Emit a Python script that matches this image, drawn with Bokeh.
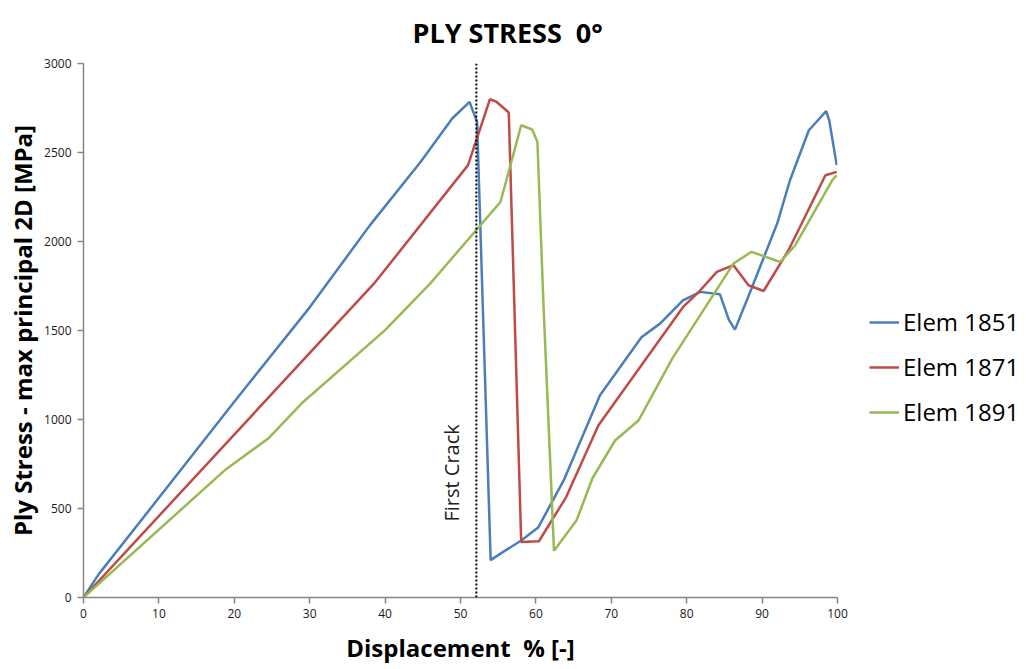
from bokeh.plotting import figure
from bokeh.models import Legend, LegendItem, Label, Span, FixedTicker, Range1d
from bokeh.embed import file_html
from bokeh.resources import INLINE

x_1851 = [0, 2, 10, 20, 30, 38, 44.7, 48.9, 51.2, 52.2, 54.0, 55.0, 58.1, 60.3, 63.7, 68.5, 74.0, 76.5, 79.5, 81.8, 84.4, 85.6, 86.4, 88.6, 92.0, 93.7, 96.2, 98.5, 98.9, 99.9]
y_1851 = [0, 130, 560, 1100, 1630, 2092, 2447, 2691, 2784, 2672, 210, 238, 322, 393, 659, 1136, 1462, 1540, 1669, 1717, 1704, 1560, 1505, 1736, 2101, 2344, 2625, 2732, 2681, 2429]

x_1871 = [0, 38.7, 51.0, 53.9, 54.8, 56.4, 58.05, 60.4, 64.0, 68.3, 79.5, 81.8, 84.0, 86.2, 88.2, 90.2, 93.5, 98.4, 99.9]
y_1871 = [0, 1772, 2429, 2799, 2784, 2725, 312, 316, 563, 968, 1631, 1726, 1829, 1867, 1754, 1722, 1951, 2372, 2391]

x_1891 = [0, 18.9, 24.5, 29.1, 40.0, 46.0, 55.3, 58.05, 59.5, 60.2, 61.0, 62.4, 65.4, 67.5, 70.5, 73.6, 78.1, 86.2, 88.6, 92.4, 94.4, 99.3, 99.9]
y_1891 = [0, 721, 893, 1097, 1502, 1765, 2222, 2653, 2629, 2560, 1650, 262, 434, 670, 882, 994, 1343, 1876, 1942, 1885, 1979, 2344, 2372]

series_names = ["Elem 1851", "Elem 1871", "Elem 1891"]
title_text = "PLY STRESS\u00a0 0°"
first_crack_x = 52.1
x_ticks = [0, 10, 20, 30, 40, 50, 60, 70, 80, 90, 100]
y_ticks = [0, 500, 1000, 1500, 2000, 2500, 3000]

FONT = "Open Sans"

p = figure(width=1031, height=669, output_backend="svg", toolbar_location=None,
           x_range=Range1d(0, 100), y_range=Range1d(0, 3000),
           min_border_left=83, min_border_right=194, min_border_top=63, min_border_bottom=72,
           frame_width=754, frame_height=534)

p.title.text = title_text
p.title.align = "left"
p.title.vertical_align = "middle"
p.title.text_font = FONT
p.title.text_font_size = "27px"
p.title.text_font_style = "bold"
p.title.text_color = "black"
p.title.offset = 329
p.title.standoff = 23

p.grid.visible = False
p.outline_line_color = None

for ax in (p.xaxis[0], p.yaxis[0]):
    ax.axis_line_color = "#868686"
    ax.axis_line_width = 1.5
    ax.major_tick_line_color = "#868686"
    ax.major_tick_line_width = 1.5
    ax.minor_tick_line_color = None
    ax.major_tick_in = 0
    ax.major_tick_out = 6
    ax.major_label_text_font = FONT
    ax.major_label_text_font_size = "12px"
    ax.major_label_text_color = "#1a1a1a"
    ax.axis_label_text_font = FONT
    ax.axis_label_text_font_size = "24px"
    ax.axis_label_text_font_style = "bold"
    ax.axis_label_text_color = "black"

p.xaxis[0].ticker = FixedTicker(ticks=x_ticks)
p.yaxis[0].ticker = FixedTicker(ticks=y_ticks)
p.xaxis[0].axis_label = "Displacement\u00a0 % [-]"
p.yaxis[0].axis_label = "Ply Stress - max principal 2D [MPa]"
p.xaxis[0].axis_label_standoff = 10
p.yaxis[0].axis_label_standoff = 2
p.xaxis[0].major_label_standoff = 5
p.yaxis[0].major_label_standoff = 6

colors = ["#4A7EBB", "#BE4B48", "#98B954"]
r1 = p.line(x_1851, y_1851, line_color=colors[0], line_width=2.5)
r2 = p.line(x_1871, y_1871, line_color=colors[1], line_width=2.5)
r3 = p.line(x_1891, y_1891, line_color=colors[2], line_width=2.5)

p.add_layout(Span(location=first_crack_x, dimension="height", line_color="black",
                  line_dash="2 2", line_width=2))
p.add_layout(Label(x=first_crack_x, y=700, text="First Crack", angle=1.5708,
                   text_font=FONT, text_font_size="20px", text_color="#202020",
                   text_align="center", text_baseline="bottom", x_offset=-11))

legend = Legend(items=[LegendItem(label=series_names[0], renderers=[r1]),
                       LegendItem(label=series_names[1], renderers=[r2]),
                       LegendItem(label=series_names[2], renderers=[r3])],
                location=(32, 169), label_text_font=FONT, label_text_font_size="24px",
                label_text_color="black", label_standoff=4,
                glyph_width=30, spacing=12, border_line_color=None,
                background_fill_alpha=0, padding=0, margin=0)
p.add_layout(legend, "right")

open("out.html", "w").write(file_html(p, INLINE))
